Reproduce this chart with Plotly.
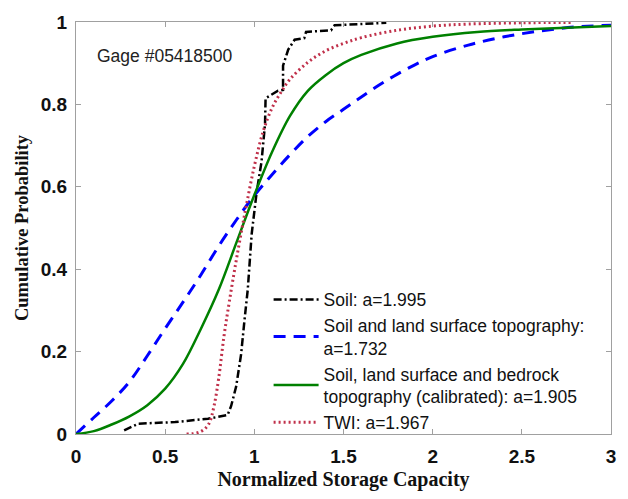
import plotly.graph_objects as go

# Soil (dash-dot, black)
soil_x = [0.27, 0.35, 0.556, 0.74, 0.85, 0.87, 0.898, 0.926, 0.944, 0.963, 0.985, 1.013, 1.04, 1.06, 1.063,
          1.096, 1.133, 1.161, 1.161, 1.19, 1.226, 1.28, 1.29, 1.43, 1.45, 1.74]
soil_y = [0.009, 0.025, 0.029, 0.037, 0.046, 0.068, 0.115, 0.194, 0.273, 0.35, 0.485, 0.587, 0.66, 0.752, 0.815,
          0.823, 0.833, 0.835, 0.894, 0.933, 0.957, 0.961, 0.976, 0.98, 0.992, 0.998]

# Soil and land surface topography (dashed, blue)
topo_x = [0, 0.1, 0.2, 0.3, 0.4, 0.5, 0.6, 0.7, 0.8, 0.9, 1.0, 1.1, 1.2, 1.3, 1.4, 1.5, 1.6, 1.7, 1.8, 1.9,
          2.0, 2.2, 2.4, 2.6, 2.8, 3.0]
topo_y = [0, 0.04, 0.08, 0.127, 0.19, 0.256, 0.32, 0.386, 0.456, 0.52, 0.579, 0.63, 0.678, 0.722, 0.758, 0.788,
          0.818, 0.847, 0.873, 0.896, 0.916, 0.944, 0.964, 0.978, 0.988, 0.992]

# Soil, land surface and bedrock topography (solid, green)
bed_x = [0, 0.1, 0.2, 0.3, 0.4, 0.5, 0.6, 0.7, 0.8, 0.9, 1.0, 1.1, 1.2, 1.3, 1.4, 1.5, 1.6, 1.8, 2.0, 2.25,
         2.5, 2.75, 3.0]
bed_y = [0, 0.007, 0.023, 0.043, 0.07, 0.11, 0.17, 0.255, 0.35, 0.465, 0.58, 0.685, 0.772, 0.833, 0.871, 0.9,
         0.92, 0.948, 0.964, 0.976, 0.982, 0.986, 0.99]

# TWI (dotted, red)
twi_x = [0.62, 0.66, 0.70, 0.73, 0.75, 0.775, 0.80, 0.83, 0.86, 0.9, 0.95, 1.0, 1.05, 1.1, 1.15, 1.2, 1.3, 1.4,
         1.5, 1.6, 1.8, 2.0, 2.2, 2.5, 2.79]
twi_y = [0, 0.001, 0.006, 0.016, 0.029, 0.07, 0.135, 0.238, 0.322, 0.425, 0.543, 0.65, 0.735, 0.792, 0.83, 0.861,
         0.902, 0.93, 0.948, 0.962, 0.98, 0.99, 0.995, 0.998, 0.999]

names = ["Soil: a=1.995",
         "Soil and land surface topography:<br>a=1.732",
         "Soil, land surface and bedrock<br>topography (calibrated): a=1.905",
         "TWI: a=1.967"]

x_ticks = [0, 0.5, 1, 1.5, 2, 2.5, 3]
x_tick_text = ["0", "0.5", "1", "1.5", "2", "2.5", "3"]
y_ticks = [0, 0.2, 0.4, 0.6, 0.8, 1]
y_tick_text = ["0", "0.2", "0.4", "0.6", "0.8", "1"]

fig = go.Figure()
fig.add_trace(go.Scatter(x=soil_x, y=soil_y, mode="lines", name=names[0],
                         line=dict(color="#000000", width=2.5, dash="8px,3px,2px,3px")))
fig.add_trace(go.Scatter(x=topo_x, y=topo_y, mode="lines", name=names[1], line_shape="spline",
                         line=dict(color="#0000ff", width=3, dash="12px,8px")))
fig.add_trace(go.Scatter(x=bed_x, y=bed_y, mode="lines", name=names[2], line_shape="spline",
                         line=dict(color="#008000", width=2.5)))
fig.add_trace(go.Scatter(x=twi_x, y=twi_y, mode="lines", name=names[3], line_shape="spline",
                         line=dict(color="#c0304a", width=3, dash="2px,3px")))

fig.add_annotation(x=0.106, y=0.917, xref="x", yref="y", text="Gage #05418500", showarrow=False,
                   xanchor="left", yanchor="middle",
                   font=dict(family="Liberation Sans, Arial", size=17.5, color="#222"))

axis_common = dict(showgrid=False, zeroline=False, showline=True, linecolor="#a0a0a0", linewidth=1,
                   mirror="ticks", ticks="inside", ticklen=5, tickcolor="#a0a0a0",
                   tickfont=dict(family="Liberation Sans, Arial", size=19, color="#111", weight="bold"))

fig.update_layout(
    width=628, height=499,
    margin=dict(l=76, r=12, t=15, b=60),
    paper_bgcolor="white", plot_bgcolor="white",
    showlegend=True,
    legend=dict(x=0.36, y=-0.016, xanchor="left", yanchor="bottom", bgcolor="rgba(255,255,255,0)",
                font=dict(family="Liberation Sans, Arial", size=17.5, color="#111"),
                tracegroupgap=0, itemwidth=45),
    xaxis=dict(range=[0, 3], tickvals=x_ticks, ticktext=x_tick_text,
               title=dict(text="<b>Normalized Storage Capacity</b>", standoff=6,
                          font=dict(family="Liberation Serif, Times New Roman", size=20, color="#111")),
               ticklabelstandoff=5, **axis_common),
    yaxis=dict(range=[0, 1], tickvals=y_ticks, ticktext=y_tick_text,
               title=dict(text="<b>Cumulative Probability</b>", standoff=7,
                          font=dict(family="Liberation Serif, Times New Roman", size=18.5, color="#111")),
               ticklabelstandoff=4, **axis_common),
)

fig.write_html("out.html")
